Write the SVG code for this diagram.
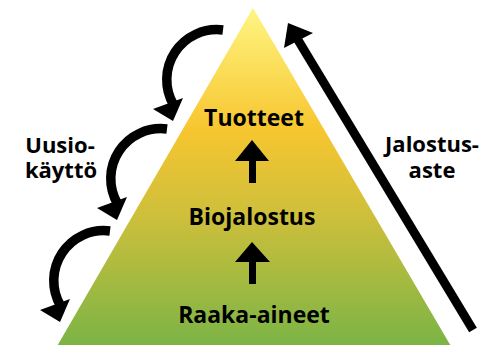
<svg xmlns="http://www.w3.org/2000/svg" width="490" height="346" viewBox="0 0 490 346">
  <defs>
    <linearGradient id="pyr" x1="0" y1="6" x2="0" y2="346" gradientUnits="userSpaceOnUse">
      <stop offset="0" stop-color="#fff684"/>
      <stop offset="0.36" stop-color="#f7c630"/>
      <stop offset="0.62" stop-color="#cdbf3b"/>
      <stop offset="1" stop-color="#7bb446"/>
    </linearGradient>
    <g id="curl">
      <path d="M0,0 A50,50 0 0 0 -49.3,75" fill="none" stroke="#000" stroke-width="9.5"/>
      <polygon points="-70,79 -40,68 -50,91" fill="#000"/>
    </g>
  </defs>
  <style>
    .lbl { font-family: "Open Sans", "Liberation Sans", sans-serif; font-weight: bold; font-size: 23px; fill: #000; text-anchor: middle; }
    .side { font-size: 22px; }
    .up { fill: #000; }
  </style>
  <rect width="490" height="346" fill="#fff"/>

  <g id="pyramid">
    <polygon points="253,6 452,346 56,346" fill="url(#pyr)" stroke="#fff" stroke-width="2"/>
  </g>

  <g id="tuotteet">
    <text class="lbl" x="254" y="126">Tuotteet</text>
  </g>
  <g id="biojalostus">
    <text class="lbl" x="252" y="225">Biojalostus</text>
  </g>
  <g id="raaka-aineet">
    <text class="lbl" x="254" y="323">Raaka-aineet</text>
  </g>
  <g id="uusiokaytto">
    <text class="lbl side" x="60" y="153">Uusio-</text>
    <text class="lbl side" x="61" y="178">käyttö</text>
  </g>
  <g id="jalostusaste">
    <text class="lbl side" x="432" y="152">Jalostus-</text>
    <text class="lbl side" x="432" y="178">aste</text>
  </g>

  <g id="connectors">
    <polygon class="up" points="252,140 269,161 256,161 256,183 249,183 249,161 235,161"/>
    <polygon class="up" points="252,242 270,262 256,262 256,284 249,284 249,262 235,262"/>
    <line x1="473" y1="330" x2="298" y2="40" stroke="#000" stroke-width="9"/>
    <polygon points="288,23 313,33 284,48" fill="#000"/>
    <use href="#curl" transform="translate(223,30)"/>
    <use href="#curl" transform="translate(167,129)"/>
    <use href="#curl" transform="translate(110,231)"/>
  </g>
</svg>
